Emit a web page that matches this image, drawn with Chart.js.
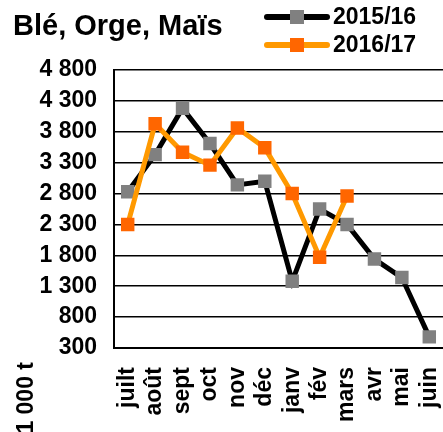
<!DOCTYPE html>
<html lang="fr">
<head>
  <meta charset="UTF-8">
  <title>Blé, Orge, Maïs</title>
  <script src="https://cdn.jsdelivr.net/npm/chart.js"></script>
  <style>
    body { margin: 0; background: #fff; }
    canvas { display: block; }
  </style>
</head>
<body>
  <canvas id="chart" width="443" height="432"></canvas>

  <script>
    const months = ['juilt', 'août', 'sept', 'oct', 'nov', 'déc', 'janv', 'fév', 'mars', 'avr', 'mai', 'juin'];
    const season1516 = [2830, 3430, 4180, 3610, 2940, 3000, 1380, 2550, 2300, 1740, 1440, 480];
    const season1617 = [2300, 3930, 3470, 3260, 3860, 3540, 2800, 1770, 2760, null, null, null];
    const yTicks = [300, 800, 1300, 1800, 2300, 2800, 3300, 3800, 4300, 4800];

    const FONT = 'Liberation Sans, Arial, sans-serif';

    // title, custom legend and unit label
    const decorations = {
      id: 'decorations',
      afterDraw(chart) {
        const ctx = chart.ctx;
        ctx.save();
        ctx.fillStyle = '#000';
        ctx.font = 'bold 29px ' + FONT;
        ctx.textBaseline = 'alphabetic';
        ctx.textAlign = 'left';
        ctx.fillText('Blé, Orge, Maïs', 13, 35);

        const rows = [
          { label: '2015/16', line: '#000000', mark: '#808080', y: 17 },
          { label: '2016/17', line: '#FF9900', mark: '#FF6600', y: 45 }
        ];
        rows.forEach(function (r) {
          ctx.strokeStyle = r.line;
          ctx.lineWidth = 6;
          ctx.lineCap = 'round';
          ctx.beginPath();
          ctx.moveTo(267, r.y);
          ctx.lineTo(327, r.y);
          ctx.stroke();
          ctx.fillStyle = r.mark;
          ctx.fillRect(290, r.y - 7, 14, 14);
          ctx.fillStyle = '#000';
          ctx.font = 'bold 23px ' + FONT;
          ctx.textBaseline = 'middle';
          ctx.fillText(r.label, 333, r.y + 1);
        });

        ctx.translate(27, 362);
        ctx.rotate(-Math.PI / 2);
        ctx.textAlign = 'right';
        ctx.textBaseline = 'middle';
        ctx.font = 'bold 23px ' + FONT;
        ctx.fillText('1 000 t', 0, 0);
        ctx.restore();
      }
    };

    new Chart(document.getElementById('chart'), {
      type: 'line',
      data: {
        labels: months,
        datasets: [
          {
            label: '2015/16',
            data: season1516,
            borderColor: '#000000',
            borderWidth: 5,
            pointStyle: 'rect',
            pointRadius: 9.5,
            pointBackgroundColor: '#808080',
            pointBorderWidth: 0,
            order: 2
          },
          {
            label: '2016/17',
            data: season1617,
            borderColor: '#FF9900',
            borderWidth: 5,
            pointStyle: 'rect',
            pointRadius: 9.5,
            pointBackgroundColor: '#FF6600',
            pointBorderWidth: 0,
            order: 1
          }
        ]
      },
      options: {
        responsive: false,
        animation: false,
        layout: { autoPadding: false, padding: { top: 70, right: 0, left: 0, bottom: 0 } },
        plugins: {
          legend: { display: false },
          tooltip: { enabled: false }
        },
        scales: {
          x: {
            offset: true,
            grid: { display: false, drawTicks: false },
            border: { display: true, color: '#000', width: 2 },
            ticks: {
              color: '#000',
              font: { family: FONT, size: 23, weight: 'bold' },
              autoSkip: false,
              minRotation: 90,
              maxRotation: 90,
              padding: 19
            },
            afterFit(scale) {
              scale.height = 84;
              scale.paddingLeft = 0;
              scale.paddingRight = 0;
            }
          },
          y: {
            min: yTicks[0],
            max: yTicks[yTicks.length - 1],
            afterBuildTicks(scale) {
              scale.ticks = yTicks.map(v => ({ value: v }));
            },
            grid: { color: '#000', lineWidth: 1.5, drawTicks: false },
            border: { display: true, color: '#000', width: 2 },
            ticks: {
              color: '#000',
              font: { family: FONT, size: 23, weight: 'bold' },
              padding: 17,
              callback: v => String(v).replace(/\B(?=(\d{3})+(?!\d))/g, ' ')
            },
            afterFit(scale) {
              scale.width = 114;
              scale.paddingTop = 0;
              scale.paddingBottom = 0;
            }
          }
        }
      },
      plugins: [decorations]
    });
  </script>
</body>
</html>
